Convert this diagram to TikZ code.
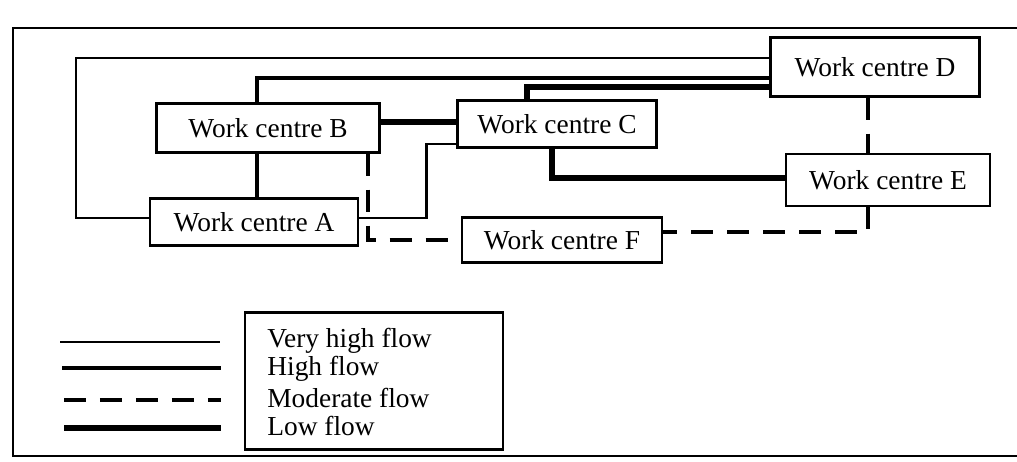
\documentclass[tikz,border=0pt]{standalone}
\usepackage{fontspec}
\setmainfont{Liberation Serif}
\usetikzlibrary{positioning, calc}

\begin{document}
\begin{tikzpicture}[
      x=0.02cm, y=-0.02cm,
      centre/.style={draw, line width=1.3pt, minimum width=4.1cm,
        minimum height=0.98cm, inner sep=2pt,
        font=\fontsize{15.6}{17}\selectfont},
      keytext/.style={anchor=west, inner sep=0pt,
        font=\fontsize{15.6}{17}\selectfont},
      vhigh/.style={line width=1.3pt},
      high/.style={line width=2pt},
      moderate/.style={line width=1.8pt, dash pattern=on 0.44cm off 0.28cm},
      low/.style={line width=3.3pt}
    ]
      \useasboundingbox (0,0) rectangle (1017,462);
      % frame round the figure
      \draw[line width=1.4pt] (13,28) rectangle (1040,456);

      % work centres
      \node[centre, minimum width=4.46cm] (B) at (268,128) {Work centre B};
      \node[centre, minimum width=4.16cm, minimum height=0.94cm] (A)
        at (254,222) {Work centre A};
      \node[centre, minimum width=3.98cm, minimum height=0.94cm] (C)
        at (557,124) {Work centre C};
      \node[centre, minimum width=4.18cm, minimum height=1.18cm] (D)
        at (875,67) {Work centre D};
      \node[centre, minimum width=4.08cm, minimum height=1.04cm] (E)
        at (888,180) {Work centre E};
      \node[centre, minimum width=4.0cm, minimum height=0.9cm] (F)
        at (562,240) {Work centre F};

      % flows
      \draw[vhigh] ([yshift=0.08cm]A.west) -- ++(-73,0)
        |- ([yshift=0.18cm]D.west);
      \draw[vhigh] ([yshift=0.08cm]A.east)
        -| ([xshift=-0.6cm, yshift=-0.4cm]C.west) -- ([yshift=-0.4cm]C.west);
      \draw[high] ([xshift=-0.22cm]B.north) |- ([yshift=-0.22cm]D.west);
      \draw[high] ([xshift=-0.22cm]B.south) -- ([xshift=-0.22cm]B.south |- A.north);
      \draw[low] ([yshift=0.12cm]B.east) -- ([yshift=0.12cm]B.east -| C.west);
      \draw[low] ([xshift=-0.6cm]C.north) |- ([yshift=-0.4cm]D.west);
      \draw[low] ([xshift=-0.1cm]C.south) |- ([yshift=0.04cm]E.west);
      \draw[moderate] ([xshift=-0.14cm]D.south) -- ([xshift=-0.14cm]D.south |- E.north);
      \draw[moderate] ([xshift=-0.4cm]E.south) |- ([yshift=0.16cm]F.east);
      \draw[moderate] ([xshift=2cm]B.south) |- (F.west);

      % key
      \node[draw, line width=1.3pt, minimum width=5.16cm, minimum height=2.74cm]
        (key) at (374,381) {};
      \node[keytext] (kvh) at (267,341) {Very high flow};
      \node[keytext] (kh) at (267,369) {High flow};
      \node[keytext] (km) at (267,398) {Moderate flow};
      \node[keytext] (kl) at (267,426) {Low flow};
      \draw[vhigh] (60,342) -- (220,342);
      \draw[high] (62,368) -- (221,368);
      \draw[moderate] (64,400) -- (221,400);
      \draw[low] (64,428) -- (221,428);
    \end{tikzpicture}
\end{document}
